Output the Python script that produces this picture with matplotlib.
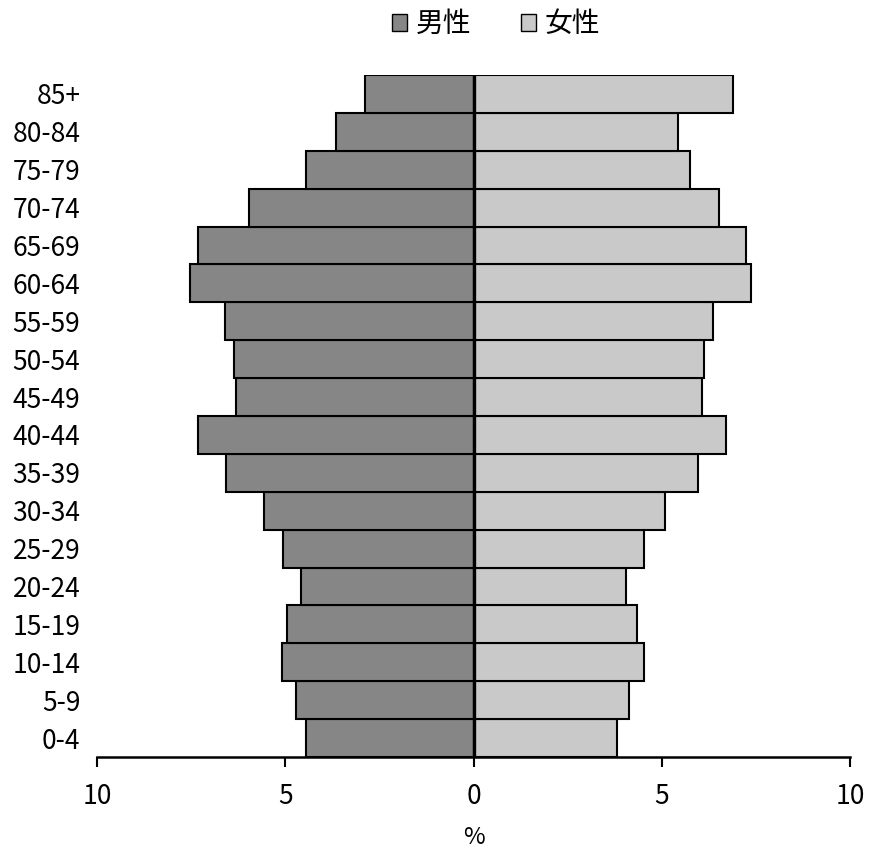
import numpy as np
import matplotlib
matplotlib.use("Agg")
import matplotlib.pyplot as plt
from matplotlib.patches import Patch

plt.rcParams['font.family'] = ['Noto Sans CJK JP', 'DejaVu Sans']

# ----------------------------
# DATA (percent of population)
# ----------------------------
age_groups = ["0-4", "5-9", "10-14", "15-19", "20-24", "25-29", "30-34",
              "35-39", "40-44", "45-49", "50-54", "55-59", "60-64",
              "65-69", "70-74", "75-79", "80-84", "85+"]
male = [4.46, 4.71, 5.08, 4.95, 4.57, 5.06, 5.57, 6.57, 7.32, 6.30,
        6.35, 6.61, 7.54, 7.32, 5.95, 4.46, 3.64, 2.89]
female = [3.82, 4.14, 4.53, 4.33, 4.05, 4.54, 5.09, 5.95, 6.70, 6.06,
          6.13, 6.35, 7.38, 7.23, 6.52, 5.74, 5.43, 6.88]
x_ticks = [-10, -5, 0, 5, 10]
x_tick_labels = ["10", "5", "0", "5", "10"]

MALE_COLOR = "#868686"
FEMALE_COLOR = "#c9c9c9"

# ----------------------------
# PLOT
# ----------------------------
fig = plt.figure(figsize=(8.72, 8.6), dpi=100)
ax = fig.add_axes([97 / 872, 103 / 860, 753 / 872, 682 / 860])

y = np.arange(len(age_groups))
ax.barh(y, -np.array(male), height=1.0, color=MALE_COLOR,
        edgecolor="black", linewidth=1.5)
ax.barh(y, female, height=1.0, color=FEMALE_COLOR,
        edgecolor="black", linewidth=1.5)

# thick centre line
ax.axvline(0, color="black", linewidth=2.4, zorder=5)

ax.set_xlim(-10, 10)
ax.set_ylim(-0.5, len(age_groups) - 0.5)
ax.set_xticks(x_ticks)
ax.set_xticklabels(x_tick_labels, fontsize=19)
ax.set_yticks(y)
ax.set_yticklabels(age_groups, fontsize=19)
ax.tick_params(axis="y", length=0, pad=12)
ax.tick_params(axis="x", direction="out", length=7, width=1.5, pad=12)

for side in ["top", "right", "left"]:
    ax.spines[side].set_visible(False)
ax.spines["bottom"].set_linewidth(1.8)

ax.set_xlabel("%", fontsize=17, labelpad=11)

handles = [Patch(facecolor=MALE_COLOR, edgecolor="black", label="男性"),
           Patch(facecolor=FEMALE_COLOR, edgecolor="black", label="女性")]
fig.legend(handles=handles, loc="center", bbox_to_anchor=(496 / 872, 1 - 24 / 860),
           ncol=2, frameon=False, fontsize=20, handlelength=0.55,
           handleheight=0.55, handletextpad=0.3, columnspacing=1.8)

fig.savefig("out.png", dpi=100)
plt.close(fig)
